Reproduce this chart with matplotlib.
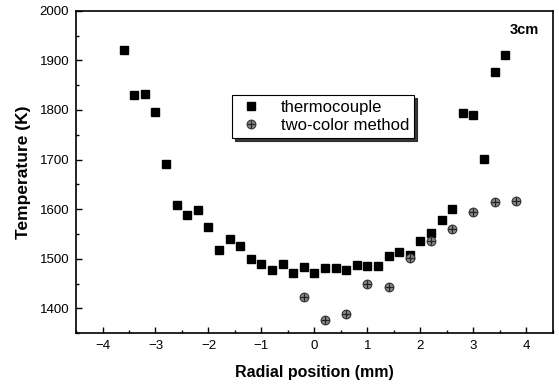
import numpy as np
import matplotlib
matplotlib.use("Agg")
import matplotlib.pyplot as plt
from matplotlib.ticker import MultipleLocator

plt.rcParams["font.family"] = ["Liberation Sans", "DejaVu Sans"]

# thermocouple readings
tc_pos = [-3.6, -3.4, -3.2, -3.0, -2.8, -2.6, -2.4, -2.2, -2.0, -1.8, -1.6, -1.4,
          -1.2, -1.0, -0.8, -0.6, -0.4, -0.2, 0.0, 0.2, 0.4, 0.6, 0.8, 1.0,
          1.2, 1.4, 1.6, 1.8, 2.0, 2.2, 2.4, 2.6, 2.8, 3.0, 3.2, 3.4, 3.6]
tc_temp = [1920, 1830, 1832, 1795, 1691, 1608, 1589, 1599, 1563, 1518, 1540, 1525,
           1499, 1489, 1478, 1489, 1472, 1483, 1471, 1482, 1482, 1478, 1488, 1486,
           1486, 1505, 1513, 1508, 1536, 1551, 1578, 1600, 1794, 1790, 1702, 1876, 1910]

# two-color method
tcm_pos = [-0.2, 0.2, 0.6, 1.0, 1.4, 1.8, 2.2, 2.6, 3.0, 3.4, 3.8]
tcm_temp = [1422, 1376, 1389, 1449, 1444, 1502, 1535, 1559, 1594, 1615, 1617]

fig = plt.figure(figsize=(5.59, 3.86), dpi=100)
ax = fig.add_axes([0.136, 0.137, 0.853, 0.835])

sq, = ax.plot(tc_pos, tc_temp, ls="none", marker="s", ms=5.6, color="black")
circ, = ax.plot(tcm_pos, tcm_temp, ls="none", marker="o", ms=6.3,
                mfc="#8a8a8a", mec="#333333", mew=0.8)
plus, = ax.plot(tcm_pos, tcm_temp, ls="none", marker="+", ms=5.3,
                color="#222222", mew=0.9)

ax.set_xlim(-4.5, 4.5)
ax.set_ylim(1350, 2000)
ax.xaxis.set_major_locator(MultipleLocator(1))
ax.xaxis.set_minor_locator(MultipleLocator(0.5))
ax.yaxis.set_major_locator(MultipleLocator(100))
ax.yaxis.set_minor_locator(MultipleLocator(50))
ax.tick_params(which="both", direction="in", top=False, right=False,
               labelsize=9.5, width=1, pad=5)
ax.tick_params(which="major", length=4)
ax.tick_params(which="minor", length=2.5)
for s in ax.spines.values():
    s.set_linewidth(1.2)

ax.set_xlabel("Radial position (mm)", fontsize=11.5, fontweight="bold",
              labelpad=9)
ax.set_ylabel("Temperature (K)", fontsize=12.5, fontweight="bold",
              labelpad=6)

ax.text(0.94, 0.94, "3cm", transform=ax.transAxes, fontsize=10.5,
        fontweight="bold", ha="center", va="center")

leg = ax.legend([sq, (circ, plus)], ["thermocouple", "two-color method"],
                loc="upper left", bbox_to_anchor=(0.31, 0.765), fontsize=12,
                fancybox=False, shadow={"color": "#222222", "alpha": 0.9},
                edgecolor="black", framealpha=1, borderpad=0.3,
                handletextpad=1.0, labelspacing=0.2, handlelength=1.6)
leg.get_frame().set_linewidth(0.8)

fig.savefig("out.png", dpi=100)
